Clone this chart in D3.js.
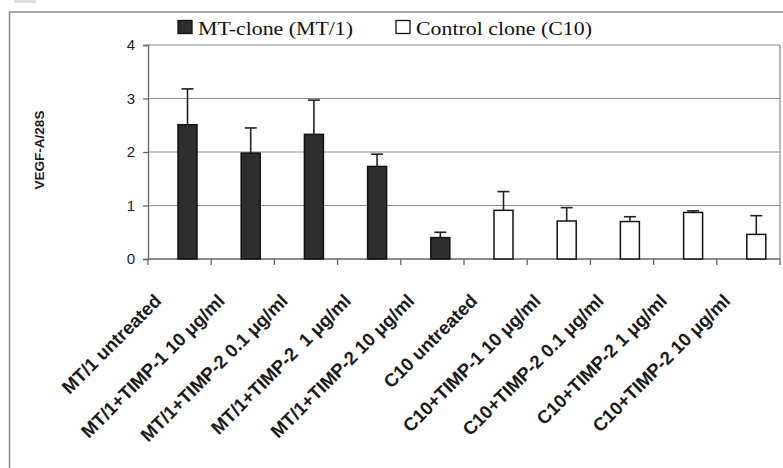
<!DOCTYPE html>
<html>
<head>
<meta charset="utf-8">
<script src="https://cdn.jsdelivr.net/npm/d3@7"></script>
<style>
  body { margin: 0; background: #fff; }
  svg { display: block; }
  .xlab { white-space: pre; }
</style>
</head>
<body>
<svg id="chart" width="783" height="468"></svg>
<script>

// values
const categories = [
	'MT/1 untreated',
	'MT/1+TIMP-1 10 \u03bcg/ml',
	'MT/1+TIMP-2 0.1 \u03bcg/ml',
	'MT/1+TIMP-2  1 \u03bcg/ml',
	'MT/1+TIMP-2 10 \u03bcg/ml',
	'C10 untreated',
	'C10+TIMP-1 10 \u03bcg/ml',
	'C10+TIMP-2 0.1 \u03bcg/ml',
	'C10+TIMP-2 1 \u03bcg/ml',
	'C10+TIMP-2 10 \u03bcg/ml'
];
const series = ['MT', 'MT', 'MT', 'MT', 'MT', 'C10', 'C10', 'C10', 'C10', 'C10'];
const values = [2.51, 1.98, 2.33, 1.73, 0.40, 0.91, 0.71, 0.70, 0.87, 0.46];
const errUpper = [3.18, 2.45, 2.97, 1.96, 0.50, 1.26, 0.96, 0.79, 0.90, 0.81];
const yTicks = [0, 1, 2, 3, 4];
const legendNames = ['MT-clone (MT/1)', 'Control clone (C10)'];

const svg = d3.select('#chart');

// outer frame of the figure panel
svg.append('path')
	.attr('d', 'M9.5,470 L9.5,12 L790,12')
	.attr('fill', 'none')
	.attr('stroke', '#8a8a8a')
	.attr('stroke-width', 1.5);
svg.append('rect').attr('x', 14).attr('y', 0).attr('width', 22).attr('height', 3).attr('fill', '#ddd');

const x = d3.scaleBand().domain(categories).range([148, 780]).padding(0);
const y = d3.scaleLinear().domain([0, 4]).range([259, 45]);

const fill = { MT: '#2e2e2e', C10: '#ffffff' };

// gridlines
svg.append('g')
	.selectAll('line')
	.data(yTicks.filter(d => d > 0))
	.join('line')
	.attr('x1', 148).attr('x2', 780)
	.attr('y1', d => y(d)).attr('y2', d => y(d))
	.attr('stroke', '#8c8c8c')
	.attr('stroke-width', 1.2);

// right border of plot
svg.append('line')
	.attr('x1', 780).attr('x2', 780).attr('y1', y(4)).attr('y2', y(0))
	.attr('stroke', '#8c8c8c').attr('stroke-width', 1.2);

// y axis
const yAxis = svg.append('g')
	.attr('transform', 'translate(148,0)')
	.call(d3.axisLeft(y).tickValues(yTicks).tickFormat(d3.format('d')).tickSize(5).tickPadding(8));
yAxis.select('.domain').attr('stroke', '#666').attr('stroke-width', 1.3);
yAxis.selectAll('.tick line').attr('stroke', '#666').attr('stroke-width', 1.3);
yAxis.selectAll('.tick text')
	.attr('font-family', 'Liberation Sans, Arial, sans-serif')
	.attr('font-size', 15)
	.attr('fill', '#222');

// x axis: ticks at category boundaries
const xAxisG = svg.append('g');
xAxisG.append('line')
	.attr('x1', 148).attr('x2', 780).attr('y1', y(0)).attr('y2', y(0))
	.attr('stroke', '#666').attr('stroke-width', 1.3);
const bounds = categories.map(c => x(c)).concat([x.range()[1]]);
xAxisG.selectAll('.xt')
	.data(bounds)
	.join('line')
	.attr('class', 'xt')
	.attr('x1', d => d).attr('x2', d => d)
	.attr('y1', y(0)).attr('y2', y(0) + 6)
	.attr('stroke', '#666').attr('stroke-width', 1.3);

// x labels, rotated
xAxisG.selectAll('.xlab')
	.data(categories)
	.join('text')
	.attr('class', 'xlab')
	.attr('transform', d => `translate(${x(d) + x.bandwidth() / 2 - 17},${y(0) + 43}) rotate(-45)`)
	.attr('text-anchor', 'end')
	.attr('font-family', 'Liberation Sans, Arial, sans-serif')
	.attr('font-weight', 'bold')
	.attr('font-size', 18.5)
	.attr('fill', '#1a1a1a')
	.text(d => d);

// bars
const barOff = 30, barW = 19;
svg.append('g')
	.selectAll('rect')
	.data(categories)
	.join('rect')
	.attr('x', d => x(d) + barOff)
	.attr('width', barW)
	.attr('y', (d, i) => y(values[i]))
	.attr('height', (d, i) => y(0) - y(values[i]))
	.attr('fill', (d, i) => fill[series[i]])
	.attr('stroke', '#111')
	.attr('stroke-width', 1.5);

// error bars (upper only)
const eb = svg.append('g').attr('stroke', '#222').attr('stroke-width', 1.6);
eb.selectAll('.ev')
	.data(categories)
	.join('line')
	.attr('class', 'ev')
	.attr('x1', d => x(d) + barOff + barW / 2)
	.attr('x2', d => x(d) + barOff + barW / 2)
	.attr('y1', (d, i) => y(values[i]))
	.attr('y2', (d, i) => y(errUpper[i]));
eb.selectAll('.ec')
	.data(categories)
	.join('line')
	.attr('class', 'ec')
	.attr('x1', d => x(d) + barOff + barW / 2 - 6)
	.attr('x2', d => x(d) + barOff + barW / 2 + 6)
	.attr('y1', (d, i) => y(errUpper[i]))
	.attr('y2', (d, i) => y(errUpper[i]));

// y title
svg.append('text')
	.attr('transform', 'translate(44,150) rotate(-90)')
	.attr('text-anchor', 'middle')
	.attr('font-family', 'Liberation Sans, Arial, sans-serif')
	.attr('font-weight', 'bold')
	.attr('font-size', 13.5)
	.attr('fill', '#1a1a1a')
	.text('VEGF-A/28S');

// legend
const legendX = [178, 396];
const legendFill = ['#2e2e2e', '#ffffff'];
const legendW = [155, 176];
const lg = svg.append('g');
legendNames.forEach((name, i) => {
	lg.append('rect')
		.attr('x', legendX[i]).attr('y', 20.5)
		.attr('width', 14).attr('height', 13)
		.attr('fill', legendFill[i])
		.attr('stroke', '#111').attr('stroke-width', 1.3);
	lg.append('text')
		.attr('x', legendX[i] + 20).attr('y', 34.5)
		.attr('font-family', 'Liberation Serif, Times New Roman, serif')
		.attr('font-size', 18)
		.attr('fill', '#111')
		.attr('textLength', legendW[i])
		.attr('lengthAdjust', 'spacingAndGlyphs')
		.text(name);
});

</script>
</body>
</html>
